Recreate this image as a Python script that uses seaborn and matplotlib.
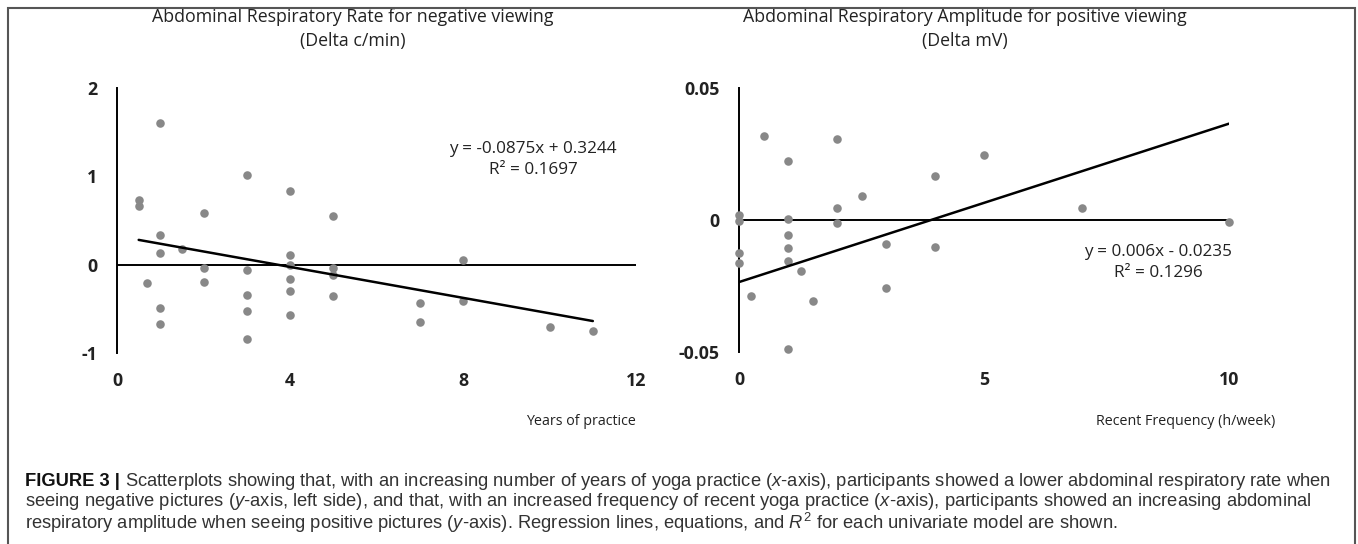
import numpy as np
import matplotlib
matplotlib.use("Agg")
import matplotlib.pyplot as plt
import matplotlib.font_manager as fm
from matplotlib.patches import Rectangle
import seaborn as sns

# Left panel: years of practice vs abdominal respiratory rate (negative viewing)
years = [0.5, 0.5, 1, 1, 1, 0.7, 1, 1, 1.5, 2, 2, 2, 3, 3, 3, 3, 3,
         4, 4, 4, 4, 4, 4, 5, 5, 5, 5, 8, 8, 7, 7, 10, 11]
rate = [0.73, 0.66, 1.60, 0.34, 0.13, -0.21, -0.49, -0.67, 0.18, 0.59, -0.04, -0.20,
        1.01, -0.06, -0.34, -0.53, -0.84, 0.83, 0.11, 0.0, -0.16, -0.30, -0.57,
        0.55, -0.04, -0.12, -0.36, 0.05, -0.41, -0.43, -0.65, -0.70, -0.75]
rate_slope, rate_icpt = -0.0875, 0.3244
rate_eq = "y = -0.0875x + 0.3244\nR² = 0.1697"

# Right panel: recent frequency vs abdominal respiratory amplitude (positive viewing)
freq = [0, 0, 0, 0, 0.5, 0.25, 1, 1, 1, 1, 1, 1, 1.27, 1.5, 2, 2, 2,
        2.5, 3, 3, 4, 4, 5, 7, 10]
amp = [0.0019, -0.0003, -0.0126, -0.0162, 0.0318, -0.0287, 0.0223, 0.0004, -0.0057,
       -0.0105, -0.0155, -0.049, -0.0193, -0.0307, 0.0306, 0.0044, -0.0013,
       0.0092, -0.009, -0.0258, 0.0165, -0.0103, 0.0246, 0.0047, -0.0009]
amp_slope, amp_icpt = 0.006, -0.0235
amp_eq = "y = 0.006x - 0.0235\nR² = 0.1296"

left_xticks = [0, 4, 8, 12]
left_yticks = [-1, 0, 1, 2]
right_xticks = [0, 5, 10]
right_yticks = [-0.05, 0, 0.05]
right_yticklabels = ["-0.05", "0", "0.05"]

caption_lines = [
    "Scatterplots showing that, with an increasing number of years of yoga practice ($x$-axis), "
    "participants showed a lower abdominal respiratory rate when",
    "seeing negative pictures ($y$-axis, left side), and that, with an increased frequency of recent "
    "yoga practice ($x$-axis), participants showed an increasing abdominal",
    "respiratory amplitude when seeing positive pictures ($y$-axis). Regression lines, equations, "
    "and $R^2$ for each univariate model are shown.",
]

sns.set_theme(style="white")
names = {f.name for f in fm.fontManager.ttflist}
cap_font = "Liberation Sans Narrow" if "Liberation Sans Narrow" in names else "Liberation Sans"
plt.rcParams["font.family"] = ["Open Sans", "DejaVu Sans"]
plt.rcParams["axes.unicode_minus"] = False
plt.rcParams["mathtext.fontset"] = "custom"
plt.rcParams["mathtext.rm"] = cap_font
plt.rcParams["mathtext.it"] = cap_font + ":italic"

fig = plt.figure(figsize=(13.58, 5.44), dpi=100)
ax1 = fig.add_axes([0.0862, 0.3511, 0.3822, 0.4871])
ax2 = fig.add_axes([0.5442, 0.3529, 0.3608, 0.4853])

dot = "#888888"
txt = "#222222"


def panel(ax, x, y, slope, icpt, xlim, ylim):
    sns.scatterplot(x=x, y=y, ax=ax, color=dot, s=38, linewidth=0, clip_on=False, zorder=3)
    lx = np.array([min(x), max(x)])
    sns.lineplot(x=lx, y=slope * lx + icpt, ax=ax, color="black", linewidth=1.8, zorder=4)
    ax.axhline(0, color="black", linewidth=1.4, zorder=2)
    ax.set_xlim(*xlim)
    ax.set_ylim(*ylim)
    for s in ["top", "right", "bottom"]:
        ax.spines[s].set_visible(False)
    ax.spines["left"].set_color("black")
    ax.spines["left"].set_linewidth(1.4)
    ax.tick_params(length=0, labelsize=12.8, pad=14, colors=txt)


panel(ax1, years, rate, rate_slope, rate_icpt, (0, 12), (-1, 2))
ax1.set_xticks(left_xticks)
ax1.set_yticks(left_yticks)
for lab in ax1.get_xticklabels() + ax1.get_yticklabels():
    lab.set_fontweight("bold")
ax1.set_title("Abdominal Respiratory Rate for negative viewing\n(Delta c/min)",
              fontsize=12.8, color=txt, pad=30, x=0.455, linespacing=1.42)
ax1.text(0.8015, 0.731, rate_eq, transform=ax1.transAxes, ha="center", va="center",
         fontsize=12.3, color=txt, linespacing=1.45)
ax1.set_xlabel("Years of practice", fontsize=10.3, color=txt, ha="right")
ax1.xaxis.set_label_coords(1.0, -0.23)

panel(ax2, freq, amp, amp_slope, amp_icpt, (0, 10), (-0.05, 0.05))
ax2.set_xticks(right_xticks)
ax2.set_yticks(right_yticks)
ax2.set_yticklabels(right_yticklabels)
for lab in ax2.get_xticklabels() + ax2.get_yticklabels():
    lab.set_fontweight("bold")
ax2.set_title("Abdominal Respiratory Amplitude for positive viewing\n(Delta mV)",
              fontsize=12.8, color=txt, pad=30, x=0.46, linespacing=1.42)
ax2.text(0.855, 0.34, amp_eq, transform=ax2.transAxes, ha="center", va="center",
         fontsize=12.3, color=txt, linespacing=1.45)
ax2.set_xlabel("Recent Frequency (h/week)", fontsize=10.3, color=txt, ha="right")
ax2.xaxis.set_label_coords(1.094, -0.235)

# outer frame
fig.add_artist(Rectangle((8 / 1358, -0.02), 1347 / 1358, 1.02 - 8 / 544,
                         transform=fig.transFigure, fill=False,
                         edgecolor="#555555", linewidth=1.5))

# caption
cap_x = 25 / 1358
cap_y = [1 - 481 / 544, 1 - 502 / 544, 1 - 523 / 544]
cap_size = 13.2
head = fig.text(cap_x, cap_y[0], "FIGURE 3 |", family=cap_font, fontweight="bold",
                fontsize=cap_size, color="#111111", va="center")
fig.canvas.draw()
bb = head.get_window_extent()
fig.text((bb.x1 + 5) / 1358, cap_y[0], caption_lines[0], family=cap_font,
         fontsize=cap_size, color="#333333", va="center")
for yy, line in zip(cap_y[1:], caption_lines[1:]):
    fig.text(cap_x, yy, line, family=cap_font, fontsize=cap_size, color="#333333", va="center")

fig.savefig("out.png", dpi=100)
